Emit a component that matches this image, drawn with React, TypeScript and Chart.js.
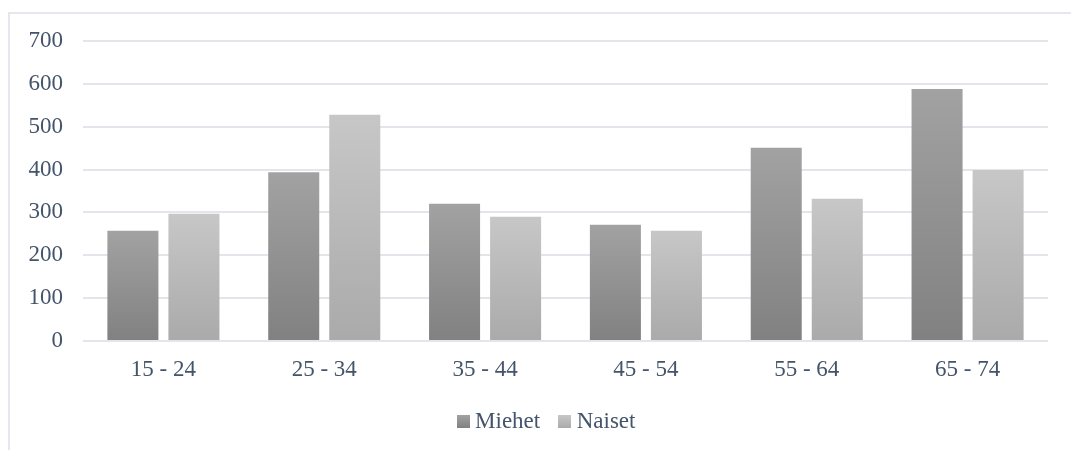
import React, { useEffect, useRef } from "react";
import { Chart, registerables } from "chart.js";

Chart.register(...registerables);

const categories = ["15 - 24", "25 - 34", "35 - 44", "45 - 54", "55 - 64", "65 - 74"];
const miehet = [257, 394, 320, 271, 451, 588];
const naiset = [297, 528, 290, 257, 332, 399];
const seriesNames = ["Miehet", "Naiset"];
const yTicks = [0, 100, 200, 300, 400, 500, 600, 700];

const TEXT = "#44546a";
const FONT = "'Liberation Serif', 'Times New Roman', serif";
const GRAD = [
  ["#a2a2a2", "#818181"],
  ["#c7c7c7", "#aaaaaa"],
];

function swatch(top: string, bottom: string) {
  const c = document.createElement("canvas");
  c.width = 13;
  c.height = 13;
  const g = c.getContext("2d")!;
  const gr = g.createLinearGradient(0, 0, 0, 13);
  gr.addColorStop(0, top);
  gr.addColorStop(1, bottom);
  g.fillStyle = gr;
  g.fillRect(0, 0, 13, 13);
  return c;
}

function barFill(idx: number) {
  return (ctx: any) => {
    const chart = ctx.chart;
    const ys = chart.scales && chart.scales.y;
    if (ctx.type !== "data" || !ys || ctx.raw == null) return GRAD[idx][1];
    const top = ys.getPixelForValue(ctx.raw);
    const bottom = ys.getPixelForValue(0);
    if (!isFinite(top) || !isFinite(bottom) || top === bottom) return GRAD[idx][1];
    const g = chart.ctx.createLinearGradient(0, top, 0, bottom);
    g.addColorStop(0, GRAD[idx][0]);
    g.addColorStop(1, GRAD[idx][1]);
    return g;
  };
}

const legendShift = {
  id: "legendShift",
  beforeDraw(chart: any) {
    if (chart.legend) chart.legend.left = 40;
  },
};

export default function App() {
  const ref = useRef<HTMLCanvasElement | null>(null);
  useEffect(() => {
    if (!ref.current) return;
    const swatches = [swatch(GRAD[0][0], GRAD[0][1]), swatch(GRAD[1][0], GRAD[1][1])];
    const chart = new Chart(ref.current, {
      type: "bar",
      data: {
        labels: categories,
        datasets: [
          { label: seriesNames[0], data: miehet, backgroundColor: barFill(0), borderWidth: 0 },
          { label: seriesNames[1], data: naiset, backgroundColor: barFill(1), borderWidth: 0 },
        ],
      },
      plugins: [legendShift],
      options: {
        animation: false,
        responsive: true,
        maintainAspectRatio: false,
        layout: { padding: { left: 0, right: 23, top: 27, bottom: 7 } },
        datasets: { bar: { categoryPercentage: 0.759, barPercentage: 0.836 } },
        scales: {
          x: {
            grid: { display: false },
            border: { display: false },
            ticks: { color: TEXT, font: { family: FONT, size: 23 }, padding: 7 },
            afterFit: (s: any) => {
              s.height = 45;
            },
          },
          y: {
            min: 0,
            max: 700,
            afterBuildTicks: (s: any) => {
              s.ticks = yTicks.map((v) => ({ value: v }));
            },
            grid: { color: "#e2e6eb", lineWidth: 2, drawTicks: false },
            border: { display: false },
            ticks: { color: TEXT, font: { family: FONT, size: 23 }, padding: 20 },
            afterFit: (s: any) => {
              s.width = 73;
              s.paddingTop = 14;
              s.paddingBottom = 14;
            },
          },
        },
        plugins: {
          tooltip: { enabled: false },
          legend: {
            position: "bottom",
            labels: {
              color: TEXT,
              font: { family: FONT, size: 23 },
              usePointStyle: true,
              pointStyleWidth: 1,
              padding: 24,
              generateLabels: (c: any) => {
                const items = Chart.defaults.plugins.legend.labels.generateLabels(c);
                items.forEach((it: any, i: number) => {
                  it.pointStyle = swatches[i % swatches.length];
                });
                return items;
              },
            },
          },
        },
      },
    });
    return () => chart.destroy();
  }, []);

  return (
    <div
      style={{
        position: "absolute",
        left: 8,
        top: 12,
        width: 1063,
        height: 438,
        boxSizing: "border-box",
        borderLeft: "2px solid #e4e7eb",
        borderTop: "2px solid #e4e7eb",
        overflow: "hidden",
        background: "#fff",
      }}
    >
      <div style={{ position: "relative", width: 1061, height: 436 }}>
        <canvas ref={ref} />
      </div>
    </div>
  );
}
